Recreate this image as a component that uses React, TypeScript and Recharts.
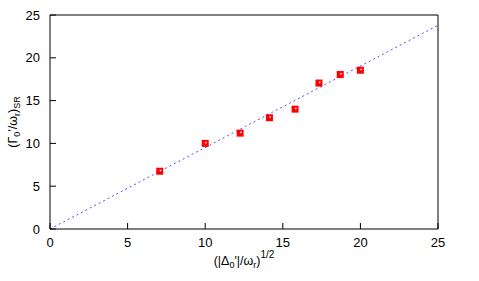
import React from 'react'
import { ScatterChart, Scatter, XAxis, YAxis, ReferenceLine } from 'recharts'

const xVals = [7.07, 10.0, 12.25, 14.14, 15.79, 17.33, 18.7, 20.0]
const yVals = [6.75, 10.0, 11.2, 13.0, 14.0, 17.05, 18.05, 18.55]
const ticks = [0, 5, 10, 15, 20, 25]
const fitX = [0, 25]
const fitY = [0, 23.8]

const points = xVals.map((x, i) => ({ x, y: yVals[i] }))

const FONT = '"Liberation Sans", Arial, sans-serif'

const XTick = ({ x, y, payload }: any) => (
  <g>
    <line x1={x} y1={y} x2={x} y2={y - 6} stroke="#000" />
    <text x={x} y={y + 18} textAnchor="middle" fontSize={13} fontFamily={FONT} fill="#000">{payload.value}</text>
  </g>
)

const YTick = ({ x, y, payload }: any) => (
  <g>
    <line x1={x} y1={y} x2={x + 6} y2={y} stroke="#000" />
    <text x={x - 10} y={y + 4.5} textAnchor="end" fontSize={13} fontFamily={FONT} fill="#000">{payload.value}</text>
  </g>
)

// gnuplot-style filled square with a small highlight
const Marker = ({ cx, cy }: any) => (
  <g>
    <rect x={cx - 3.5} y={cy - 3.5} width={7} height={7} fill="#ff0000" />
    <rect x={cx} y={cy - 1.5} width={1.5} height={1.5} fill="#fff" />
  </g>
)

const XLabel = ({ viewBox }: any) => {
  const cx = viewBox.x + viewBox.width / 2
  return (
    <text x={cx} y={265} textAnchor="middle" fontSize={12.5} fontFamily={FONT} fill="#000">
      (|Δ<tspan fontSize={9} dy={3}>0</tspan><tspan dy={-3}>'|/ω</tspan>
      <tspan fontSize={9} dy={3}>r</tspan><tspan dy={-3}>)</tspan>
      <tspan fontSize={10} dy={-7}>1/2</tspan>
    </text>
  )
}

const YLabel = ({ viewBox }: any) => {
  const cy = viewBox.y + viewBox.height / 2
  return (
    <text x={0} y={0} transform={`translate(17, ${cy}) rotate(-90)`} textAnchor="middle" fontSize={12.5} fontFamily={FONT} fill="#000">
      (Γ<tspan fontSize={9} dy={3}>0</tspan><tspan dy={-3}>'/ω</tspan>
      <tspan fontSize={9} dy={3}>r</tspan><tspan dy={-3}>)</tspan>
      <tspan fontSize={9} dy={3}>SR</tspan>
    </text>
  )
}

export default function App() {
  return (
    <div style={{ position: 'absolute', left: 0, top: 0, width: 479, height: 281, background: '#fff' }}>
      <ScatterChart width={479} height={281} margin={{ top: 15, right: 41, bottom: 22, left: 10 }}>
        <XAxis type="number" dataKey="x" domain={[0, 25]} ticks={ticks} tickSize={0} tickMargin={0}
          tick={<XTick />} axisLine={{ stroke: '#000' }} height={30} label={<XLabel />} allowDataOverflow />
        <YAxis type="number" dataKey="y" domain={[0, 25]} ticks={ticks} tickSize={0} tickMargin={0}
          tick={<YTick />} axisLine={{ stroke: '#000' }} width={40} label={<YLabel />} allowDataOverflow />
        <ReferenceLine y={25} stroke="#000" />
        <ReferenceLine x={25} stroke="#000" />
        <ReferenceLine segment={[{ x: fitX[0], y: fitY[0] }, { x: fitX[1], y: fitY[1] }]}
          stroke="#4d4dff" strokeDasharray="2 3" />
        <Scatter data={points} shape={<Marker />} isAnimationActive={false} />
      </ScatterChart>
    </div>
  )
}
